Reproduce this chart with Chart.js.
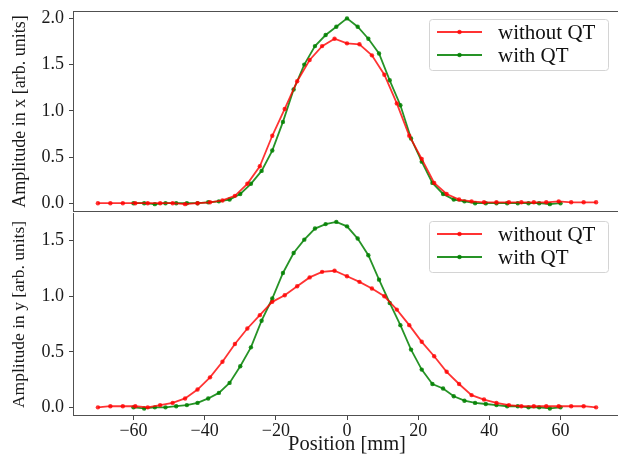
<!DOCTYPE html>
<html>
<head>
<meta charset="utf-8">
<script src="https://cdn.jsdelivr.net/npm/chart.js@4.4.1/dist/chart.umd.min.js"></script>
<style>
  html, body { margin: 0; padding: 0; background: #fff; }
  #wrap { position: relative; width: 618px; height: 455px; overflow: hidden; }
  canvas { position: absolute; left: 0; }
  #top-chart { top: 0; }
  #bottom-chart { top: 212px; }
</style>
</head>
<body>
<div id="wrap">
  <canvas id="top-chart" width="630" height="213"></canvas>
  <canvas id="bottom-chart" width="630" height="243"></canvas>
</div>
<script>
// positions [mm]
const posWithout = [-70, -66.5, -63, -59.5, -56, -52.5, -49, -45.5, -42, -38.5, -35, -31.5, -28, -24.5, -21, -17.5, -14, -10.5, -7, -3.5,
  0, 3.5, 7, 10.5, 14, 17.5, 21, 24.5, 28, 31.5, 35, 38.5, 42, 45.5, 49, 52.5, 56, 59.5, 63, 66.5, 70];
const posWith = [-60, -57, -54, -51, -48, -45, -42, -39, -36, -33, -30, -27, -24, -21, -18, -15, -12, -9, -6, -3,
  0, 3, 6, 9, 12, 15, 18, 21, 24, 27, 30, 33, 36, 39, 42, 45, 48, 51, 54, 57, 60];

// amplitude in x
const xWithout = [0.00, 0.00, 0.00, 0.00, 0.00, 0.00, 0.00, -0.01, 0.00, 0.01, 0.03, 0.08, 0.21, 0.40, 0.73, 1.02, 1.32, 1.55, 1.70, 1.78,
  1.73, 1.72, 1.60, 1.39, 1.08, 0.73, 0.48, 0.22, 0.10, 0.04, 0.02, 0.01, 0.01, 0.01, 0.01, 0.01, 0.01, 0.02, 0.01, 0.01, 0.01];
const xWith = [0.00, 0.00, -0.01, 0.00, 0.00, 0.00, 0.00, 0.01, 0.02, 0.04, 0.10, 0.21, 0.35, 0.57, 0.88, 1.23, 1.50, 1.70, 1.82, 1.91,
  2.00, 1.91, 1.78, 1.62, 1.33, 1.06, 0.70, 0.45, 0.22, 0.10, 0.04, 0.02, 0.00, 0.00, 0.00, 0.00, 0.00, 0.00, 0.00, -0.01, 0.00];

// amplitude in y
const yWithout = [0.00, 0.01, 0.01, 0.01, 0.00, 0.02, 0.04, 0.08, 0.16, 0.27, 0.41, 0.57, 0.71, 0.83, 0.95, 1.01, 1.09, 1.17, 1.22, 1.23,
  1.18, 1.13, 1.07, 1.00, 0.88, 0.74, 0.59, 0.46, 0.32, 0.21, 0.11, 0.07, 0.04, 0.02, 0.01, 0.01, 0.01, 0.01, 0.01, 0.01, 0.00];
const yWith = [0.00, -0.01, 0.00, 0.00, 0.01, 0.02, 0.04, 0.08, 0.13, 0.22, 0.37, 0.54, 0.78, 0.98, 1.21, 1.39, 1.51, 1.61, 1.65, 1.67,
  1.63, 1.52, 1.37, 1.15, 0.94, 0.74, 0.52, 0.34, 0.21, 0.17, 0.10, 0.06, 0.04, 0.03, 0.02, 0.01, 0.01, 0.00, 0.00, -0.01, 0.00];

const xTicks = [-60, -40, -20, 0, 20, 40, 60];
const yTicksTop = [0, 0.5, 1.0, 1.5, 2.0];
const yTicksBottom = [0, 0.5, 1.0, 1.5];
const seriesNames = ["without QT", "with QT"];

const FONT = "'Liberation Serif', 'Times New Roman', serif";
const RED = "rgba(255, 0, 0, 0.8)";
const GREEN = "rgba(0, 128, 0, 0.85)";

const toPoints = (xs, ys) => xs.map((x, i) => ({ x, y: ys[i] }));

function makeDataset(label, xs, ys, color) {
  return {
    label,
    data: toPoints(xs, ys),
    borderColor: color,
    backgroundColor: color,
    borderWidth: 1.8,
    pointRadius: 2.2,
    pointBorderWidth: 0,
    pointBackgroundColor: color,
    tension: 0,
  };
}

// matplotlib-like box around the axes, drawn as 1px filled strips
function framePlugin(drawTop) {
  return {
    id: "frame",
    afterDraw(chart) {
      const { ctx, chartArea: a } = chart;
      const l = Math.round(a.left), r = Math.round(a.right);
      const t = Math.round(a.top), b = Math.round(a.bottom);
      ctx.save();
      ctx.fillStyle = "#505050";
      if (drawTop) ctx.fillRect(l, t, r - l, 1);
      ctx.fillRect(l, t, 1, b - t);
      ctx.fillRect(l, b - 1, r - l, 1);
      ctx.fillRect(r - 1, t, 1, b - t);
      ctx.restore();
    },
  };
}

// legend in the upper right corner of each panel
const legendBox = {
  id: "legendBox",
  afterDraw(chart) {
    const { ctx, chartArea: a } = chart;
    const left = a.right - 192, top = a.top + 8, w = 179, h = 51;
    ctx.save();
    ctx.fillStyle = "rgba(255,255,255,0.8)";
    ctx.strokeStyle = "#d4d4d4";
    ctx.lineWidth = 1;
    ctx.beginPath();
    ctx.roundRect(left + 0.5, top + 0.5, w, h, 3);
    ctx.fill();
    ctx.stroke();
    chart.data.datasets.forEach((ds, i) => {
      const y = top + 13 + i * 23;
      ctx.strokeStyle = ds.borderColor;
      ctx.lineWidth = ds.borderWidth;
      ctx.beginPath();
      ctx.moveTo(left + 8, y);
      ctx.lineTo(left + 53, y);
      ctx.stroke();
      ctx.fillStyle = ds.borderColor;
      ctx.beginPath();
      ctx.arc(left + 30.5, y, 2.2, 0, Math.PI * 2);
      ctx.fill();
      ctx.fillStyle = "#111";
      ctx.font = "21px " + FONT;
      ctx.textBaseline = "middle";
      ctx.fillText(ds.label, left + 69, y + 1);
    });
    ctx.restore();
  },
};

function yScale(min, max, ticks, title, titleSize) {
  return {
    min, max,
    afterFit: s => { s.width = 73; s.paddingTop = 0; s.paddingBottom = 0; },
    afterBuildTicks: s => { s.ticks = ticks.map(v => ({ value: v })); },
    ticks: { callback: v => v.toFixed(1), font: { family: FONT, size: 18 }, color: "#1a1a1a", padding: 5 },
    grid: { drawOnChartArea: false, tickLength: 4, color: "#444" },
    border: { display: false },
    title: {
      display: true, text: title, color: "#1a1a1a",
      font: { family: FONT, size: titleSize, lineHeight: 1.2 },
      padding: { top: 9, bottom: 0 },
    },
  };
}

function loadTopChart() {
  const ctx = document.getElementById("top-chart").getContext("2d");
  new Chart(ctx, {
    type: "line",
    data: {
      datasets: [
        makeDataset(seriesNames[0], posWithout, xWithout, RED),
        makeDataset(seriesNames[1], posWith, xWith, GREEN),
      ],
    },
    options: {
      responsive: false,
      animation: false,
      layout: { autoPadding: false, padding: { top: 11, bottom: 1, left: 0, right: 9 } },
      plugins: { legend: { display: false }, tooltip: { enabled: false } },
      scales: {
        x: { type: "linear", min: -77, max: 77, display: false },
        y: yScale(-0.095, 2.08, yTicksTop, "Amplitude in x [arb. units]", 18),
      },
    },
    plugins: [framePlugin(true), legendBox],
  });
}

function loadBottomChart() {
  const ctx = document.getElementById("bottom-chart").getContext("2d");
  new Chart(ctx, {
    type: "line",
    data: {
      datasets: [
        makeDataset(seriesNames[0], posWithout, yWithout, RED),
        makeDataset(seriesNames[1], posWith, yWith, GREEN),
      ],
    },
    options: {
      responsive: false,
      animation: false,
      layout: { autoPadding: false, padding: { top: 1, bottom: 0, left: 0, right: 9 } },
      plugins: { legend: { display: false }, tooltip: { enabled: false } },
      scales: {
        x: {
          type: "linear", min: -77, max: 77,
          afterFit: s => { s.height = 39; s.paddingLeft = 0; s.paddingRight = 0; },
          afterBuildTicks: s => { s.ticks = xTicks.map(v => ({ value: v })); },
          ticks: {
            callback: v => (v < 0 ? "\u2212" : "") + Math.abs(v),
            font: { family: FONT, size: 18 }, color: "#1a1a1a",
            padding: 0, autoSkip: false, maxRotation: 0,
          },
          grid: { drawOnChartArea: false, tickLength: 4, color: "#444" },
          border: { display: false },
          title: {
            display: true, text: "Position [mm]", color: "#1a1a1a",
            font: { family: FONT, size: 20.5, lineHeight: 1 },
            padding: { top: 0, bottom: 0 },
          },
        },
        y: yScale(-0.078, 1.75, yTicksBottom, "Amplitude in y [arb. units]", 17.5),
      },
    },
    plugins: [framePlugin(false), legendBox],
  });
}

loadTopChart();
loadBottomChart();
</script>
</body>
</html>
